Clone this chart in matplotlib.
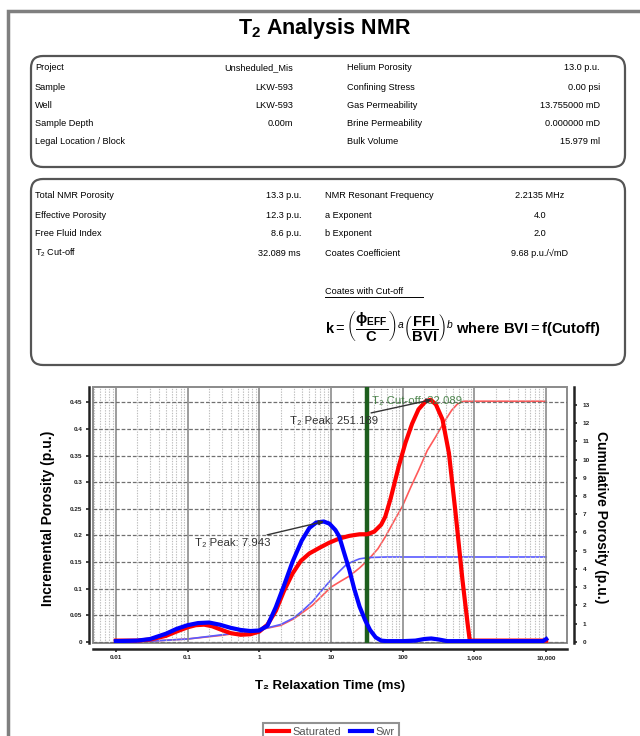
import matplotlib
matplotlib.use("Agg")
import matplotlib.pyplot as plt
from matplotlib.patches import FancyBboxPatch, Rectangle
from matplotlib.lines import Line2D
from matplotlib.ticker import FixedLocator, NullFormatter, LogLocator

plt.rcParams['font.family'] = ['Liberation Sans', 'DejaVu Sans']
plt.rcParams['mathtext.fontset'] = 'custom'
plt.rcParams['mathtext.rm'] = 'Liberation Sans'
plt.rcParams['mathtext.it'] = 'Liberation Sans:italic'
plt.rcParams['mathtext.bf'] = 'Liberation Sans:bold'

# ---------------- data ----------------
info_left_labels = ["Project", "Sample", "Well", "Sample Depth", "Legal Location / Block"]
info_left_values = ["Unsheduled_Mis", "LKW-593", "LKW-593", "0.00m", ""]
info_right_labels = ["Helium Porosity", "Confining Stress", "Gas Permeability",
                     "Brine Permeability", "Bulk Volume"]
info_right_values = ["13.0 p.u.", "0.00 psi", "13.755000 mD", "0.000000 mD", "15.979 ml"]

nmr_left_labels = ["Total NMR Porosity", "Effective Porosity", "Free Fluid Index", "T$_2$ Cut-off"]
nmr_left_values = ["13.3 p.u.", "12.3 p.u.", "8.6 p.u.", "32.089 ms"]
nmr_right_labels = ["NMR Resonant Frequency", "a Exponent", "b Exponent", "Coates Coefficient"]
nmr_right_values = ["2.2135 MHz", "4.0", "2.0", "9.68 p.u./\u221amD"]

sat_t2 = [0.01, 0.02, 0.03, 0.05, 0.07, 0.1, 0.13, 0.17, 0.22, 0.3, 0.4, 0.55, 0.75, 1.0,
          1.3, 1.7, 2.2, 2.9, 3.8, 5.0, 7.0, 9.4, 13, 18, 25, 32, 40, 50, 57, 68, 88, 109,
          135, 166, 208, 245, 290, 358, 440, 545, 680, 800, 860, 1000, 10000]
sat_inc = [0.002, 0.002, 0.004, 0.011, 0.019, 0.027, 0.031, 0.032, 0.029, 0.022, 0.016,
           0.013, 0.014, 0.019, 0.032, 0.058, 0.095, 0.128, 0.152, 0.166, 0.177, 0.186,
           0.194, 0.199, 0.202, 0.202, 0.207, 0.220, 0.235, 0.270, 0.330, 0.374, 0.410,
           0.437, 0.452, 0.455, 0.446, 0.418, 0.355, 0.242, 0.116, 0.035, 0.002, 0.002, 0.002]

swr_t2 = [0.01, 0.02, 0.03, 0.05, 0.07, 0.1, 0.14, 0.2, 0.28, 0.4, 0.55, 0.75, 1.0, 1.3,
          1.7, 2.2, 2.9, 3.9, 5.0, 6.2, 7.9, 9.5, 11.5, 13, 15, 18, 21, 25, 30, 35, 42, 50,
          60, 100, 150, 200, 250, 320, 420, 600, 1000, 9000, 10000]
swr_inc = [0.001, 0.002, 0.005, 0.015, 0.024, 0.031, 0.035, 0.036, 0.032, 0.026, 0.022,
           0.020, 0.021, 0.030, 0.065, 0.105, 0.150, 0.190, 0.214, 0.224, 0.226, 0.222,
           0.210, 0.198, 0.170, 0.135, 0.100, 0.066, 0.040, 0.022, 0.008, 0.002, 0.001,
           0.001, 0.002, 0.005, 0.006, 0.004, 0.001, 0.001, 0.001, 0.001, 0.005]

sat_cum_t2 = [0.01, 0.03, 0.1, 0.3, 1, 2, 3, 4, 5.5, 7, 10, 14, 18, 25, 33, 45, 57, 75, 98,
              130, 166, 220, 288, 370, 480, 580, 700, 1000, 10000]
sat_cum = [0, 0.03, 0.15, 0.35, 0.65, 0.9, 1.25, 1.6, 2.0, 2.4, 3.0, 3.35, 3.6, 4.05, 4.5,
           5.1, 5.75, 6.6, 7.4, 8.5, 9.4, 10.5, 11.25, 12.0, 12.7, 13.05, 13.2, 13.2, 13.2]

swr_cum_t2 = [0.01, 0.03, 0.1, 0.3, 1, 2, 3, 4, 5.5, 7, 10, 13, 16, 20, 25, 33, 60, 10000]
swr_cum = [0, 0.03, 0.15, 0.38, 0.65, 0.95, 1.3, 1.7, 2.2, 2.7, 3.4, 3.85, 4.2, 4.4, 4.55,
           4.62, 4.65, 4.65]

t2_cutoff = 32.089
peak_sat = (251.189, 0.455)
peak_swr = (7.943, 0.226)

x_ticks = [0.01, 0.1, 1, 10, 100, 1000, 10000]
x_tick_labels = ["0.01", "0.1", "1", "10", "100", "1,000", "10,000"]
y_ticks = [0, 0.05, 0.1, 0.15, 0.2, 0.25, 0.3, 0.35, 0.4, 0.45]
y_tick_labels = ["0", "0.05", "0.1", "0.15", "0.2", "0.25", "0.3", "0.35", "0.4", "0.45"]
y2_ticks = list(range(0, 14))

RED = "#ff0000"
BLUE = "#0000ff"
GREEN = "#1d5e1d"

# ---------------- figure ----------------
W, H = 640, 736
fig = plt.figure(figsize=(W / 100, H / 100), dpi=100)

bg = fig.add_axes([0, 0, 1, 1])
bg.set_xlim(0, W)
bg.set_ylim(H, 0)
bg.axis("off")

# page border
bg.plot([8, 8, W], [H, 11, 11], color="#7f7f7f", lw=2.5, solid_joinstyle="miter")

# title
bg.text(325, 34, r"T$_\mathbf{2}$ Analysis NMR", ha="center", va="baseline",
        fontsize=15.5, fontweight="bold")

fs = 6.6
# box 1
bg.add_patch(FancyBboxPatch((31, 56), 594, 111, boxstyle="round,pad=0,rounding_size=12",
                            fc="white", ec="#555555", lw=1.6))
rows1 = [68, 87, 105, 123, 141]
for y, lab, val in zip(rows1, info_left_labels, info_left_values):
    bg.text(35, y + 2.5, lab, fontsize=fs, va="baseline", ha="left")
    bg.text(293, y + 2.5, val, fontsize=fs, va="baseline", ha="right")
for y, lab, val in zip(rows1, info_right_labels, info_right_values):
    bg.text(347, y + 2.5, lab, fontsize=fs, va="baseline", ha="left")
    bg.text(600, y + 2.5, val, fontsize=fs, va="baseline", ha="right")

# box 2
bg.add_patch(FancyBboxPatch((31, 179), 594, 186, boxstyle="round,pad=0,rounding_size=12",
                            fc="white", ec="#555555", lw=1.6))
rows2 = [196, 215, 234, 253]
for y, lab, val in zip(rows2, nmr_left_labels, nmr_left_values):
    bg.text(35, y + 2.5, lab, fontsize=fs, va="baseline", ha="left")
    bg.text(301, y + 2.5, val, fontsize=fs, va="baseline", ha="right")
for y, lab, val in zip(rows2, nmr_right_labels, nmr_right_values):
    bg.text(325, y + 2.5, lab, fontsize=fs, va="baseline", ha="left")
    bg.text(540, y + 2.5, val, fontsize=fs, va="baseline", ha="center")

bg.text(325, 293.5, "Coates with Cut-off", fontsize=fs, va="baseline", ha="left")
bg.plot([325, 423], [297, 297], color="black", lw=0.7)
bg.text(325, 326,
        r"$\mathbf{k} = \left(\dfrac{\mathbf{\phi_{EFF}}}{\mathbf{C}}\right)^{a}"
        r"\left(\dfrac{\mathbf{FFI}}{\mathbf{BVI}}\right)^{b}$ where BVI$=$f(Cutoff)",
        fontsize=10.6, fontweight="bold", va="center", ha="left")

# ---------------- chart ----------------
L, R, T, B = 93, 567, 387, 643
ax = fig.add_axes([L / W, 1 - B / H, (R - L) / W, (B - T) / H])
ax2 = ax.twinx()
ax.set_zorder(3)
ax2.set_zorder(2)
ax.patch.set_visible(False)

ax.set_xscale("log")
ax.set_xlim(0.0048, 19500)
ax.set_ylim(-0.0025, 0.479)
ax2.set_ylim(-0.07, 13.98)

ax.xaxis.set_major_locator(FixedLocator(x_ticks))
ax.xaxis.set_minor_locator(LogLocator(base=10, subs=range(2, 10), numticks=20))
ax.xaxis.set_minor_formatter(NullFormatter())
ax.set_xticklabels(x_tick_labels)
ax.set_yticks(y_ticks)
ax.set_yticklabels(y_tick_labels)
ax.grid(True, which="major", axis="x", color="#8c8c8c", lw=1.2, ls="-")
ax.grid(True, which="minor", axis="x", color="#bdbdbd", lw=0.8, ls=(0, (1.2, 1.2)))
ax.grid(True, which="major", axis="y", color="#707070", lw=0.9, ls=(0, (3, 1.5)))
ax.set_axisbelow(True)

for sp in ["top", "right"]:
    ax.spines[sp].set_visible(False)
for sp in ["top", "left", "bottom"]:
    ax2.spines[sp].set_visible(False)
ax.spines["left"].set_position(("outward", 3))
ax.spines["bottom"].set_position(("outward", 4))
ax2.spines["right"].set_position(("outward", 5))
for sp in [ax.spines["left"], ax.spines["bottom"], ax2.spines["right"]]:
    sp.set_linewidth(1.8)
    sp.set_color("#222222")
ax.add_patch(Rectangle((0, 0), 1, 1, transform=ax.transAxes, fill=False,
                       ec="#8a8a8a", lw=1.4, clip_on=False, zorder=0))

ax.tick_params(axis="both", which="major", labelsize=4.6, length=2.5, width=1.2,
               colors="#222222", pad=2)
ax.tick_params(axis="x", which="minor", length=0)
ax2.set_yticks(y2_ticks)
ax2.tick_params(axis="y", labelsize=4.6, length=2.5, width=1.2, colors="#222222", pad=4)
for lab in ax.get_xticklabels() + ax.get_yticklabels() + ax2.get_yticklabels():
    lab.set_fontweight("bold")

ax2.plot(sat_cum_t2, sat_cum, color="#ff5a5a", lw=1.2)
ax2.plot(swr_cum_t2, swr_cum, color="#5a5aff", lw=1.2)

ax.axvline(t2_cutoff, color=GREEN, lw=3.2, zorder=2)

ax.plot(sat_t2, sat_inc, color=RED, lw=3, solid_joinstyle="round", zorder=4)
ax.plot(swr_t2, swr_inc, color=BLUE, lw=3, solid_joinstyle="round", zorder=4)

ax.text(372, H - 401, "T\u2082 Cut-off: 32.089", transform=None, color="#3d7a3d",
        fontsize=8.2, ha="left", va="center", zorder=5, alpha=0.9)
ax.annotate("T\u2082 Peak: 251.189", xy=peak_sat, xycoords="data",
            xytext=(290, H - 421), textcoords="figure pixels", fontsize=8.2,
            color="#333333", ha="left", va="center", zorder=6,
            arrowprops=dict(arrowstyle="-|>", color="#333333", lw=1.0,
                            mutation_scale=7, shrinkA=1, shrinkB=0))
ax.annotate("T\u2082 Peak: 7.943", xy=peak_swr, xycoords="data",
            xytext=(195, H - 543), textcoords="figure pixels", fontsize=8.2,
            color="#333333", ha="left", va="center", zorder=6,
            arrowprops=dict(arrowstyle="-|>", color="#333333", lw=1.0,
                            mutation_scale=7, shrinkA=1, shrinkB=0))

bg.text(48, 518, "Incremental Porosity (p.u.)", rotation=90, ha="center", va="center",
        fontsize=10, fontweight="bold")
bg.text(601, 517, "Cumulative Porosity (p.u.)", rotation=270, ha="center", va="center",
        fontsize=10, fontweight="bold")
bg.text(330, 686, "T\u2082 Relaxation Time (ms)", ha="center", va="center",
        fontsize=9.5, fontweight="bold")

handles = [Line2D([], [], color=RED, lw=3), Line2D([], [], color=BLUE, lw=3)]
leg = fig.legend(handles, ["Saturated", "Swr"], loc="upper center",
                 bbox_to_anchor=(331 / W, 1 - 717 / H), ncol=2, fontsize=8,
                 frameon=True, fancybox=False, handlelength=2.0, handletextpad=0.3,
                 columnspacing=0.8, borderpad=0.4)
leg.get_frame().set_edgecolor("#777777")
leg.get_frame().set_linewidth(1.5)
for t in leg.get_texts():
    t.set_color("#555555")

fig.savefig("out.png", dpi=100)
